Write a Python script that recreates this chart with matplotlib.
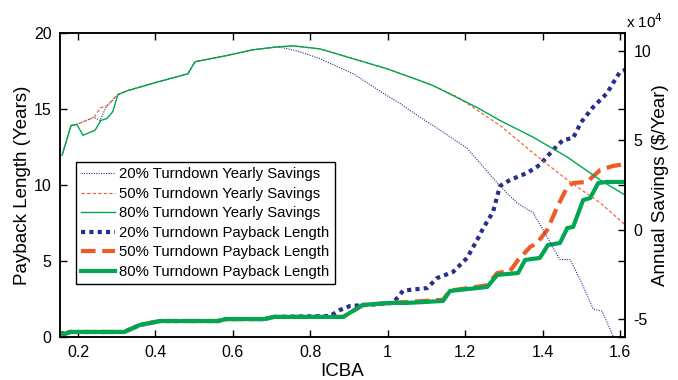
import numpy as np
import matplotlib
matplotlib.use("Agg")
import matplotlib.pyplot as plt

plt.rcParams['font.family'] = ['Liberation Sans', 'DejaVu Sans']

#--- yearly savings ($/year) vs ICBA
sav20_x = [0.159, 0.182, 0.197, 0.241, 0.257, 0.272, 0.303, 0.329, 0.399, 0.484, 0.502, 0.580,
           0.652, 0.714, 0.730, 0.766, 0.825, 0.911, 0.998, 1.032, 1.084, 1.117, 1.205, 1.290,
           1.334, 1.350, 1.376, 1.401, 1.445, 1.471, 1.497, 1.531, 1.554, 1.582, 1.600]
sav20_y = [41700, 58300, 58900, 62800, 61100, 68300, 75600, 77800, 82200, 87200, 93900, 97200,
           100600, 102200, 101700, 100000, 95600, 87200, 75000, 70600, 62800, 58300, 45600, 24400,
           15000, 12800, 9400, 0, -16700, -16700, -27800, -44400, -45600, -59400, -70000]

sav50_x = [0.159, 0.182, 0.197, 0.241, 0.259, 0.272, 0.303, 0.329, 0.399, 0.484, 0.502, 0.580,
           0.652, 0.714, 0.756, 0.825, 0.911, 0.998, 1.084, 1.117, 1.179, 1.290, 1.376, 1.464,
           1.549, 1.613]
sav50_y = [41700, 58300, 58900, 62800, 68300, 68900, 75600, 77800, 82200, 87200, 93900, 97200,
           100600, 102200, 102800, 101100, 95600, 90000, 83300, 80600, 74400, 58300, 42800, 27800,
           15000, 2800]

sav80_x = [0.159, 0.182, 0.197, 0.213, 0.244, 0.259, 0.275, 0.290, 0.303, 0.329, 0.399, 0.484,
           0.502, 0.580, 0.652, 0.714, 0.756, 0.825, 0.911, 0.998, 1.084, 1.117, 1.231, 1.290,
           1.376, 1.464, 1.549, 1.613]
sav80_y = [41700, 58300, 58900, 52800, 55600, 61100, 62200, 66100, 75600, 77800, 82200, 87200,
           93900, 97200, 100600, 102200, 102800, 101100, 95600, 90000, 83300, 80600, 68300, 61100,
           51700, 40600, 27800, 19400]

#--- payback length (years) vs ICBA
pb20_x = [0.1535, 0.166, 0.179, 0.2, 0.319, 0.360, 0.412, 0.562, 0.582, 0.681, 0.706, 0.851,
          0.877, 0.903, 0.947, 1.014, 1.040, 1.102, 1.128, 1.169, 1.205, 1.231, 1.247, 1.272,
          1.290, 1.316, 1.360, 1.393, 1.427, 1.453, 1.479, 1.500, 1.531, 1.567, 1.582, 1.600, 1.613]
pb20_y = [0.26, 0.2, 0.33, 0.33, 0.33, 0.79, 1.05, 1.05, 1.18, 1.18, 1.32, 1.38,
          1.78, 2.04, 2.11, 2.24, 3.05, 3.22, 3.88, 4.28, 5.2, 6.38, 7.17, 8.22,
          9.93, 10.33, 10.79, 11.32, 12.3, 12.96, 13.09, 14.14, 15.13, 16.05, 16.7, 17.43, 17.57]

pb50_x = [0.1535, 0.166, 0.179, 0.2, 0.319, 0.360, 0.412, 0.562, 0.582, 0.681, 0.706, 0.885,
          0.936, 1.006, 1.050, 1.143, 1.161, 1.257, 1.283, 1.316, 1.337, 1.368, 1.386, 1.412,
          1.438, 1.464, 1.479, 1.515, 1.549, 1.582, 1.613]
pb50_y = [0.26, 0.2, 0.33, 0.33, 0.33, 0.79, 1.05, 1.05, 1.18, 1.18, 1.32, 1.32,
          2.11, 2.24, 2.30, 2.45, 3.05, 3.40, 4.21, 4.34, 5.07, 5.92, 6.18, 7.04,
          8.55, 9.87, 10.13, 10.2, 10.99, 11.25, 11.38]

pb80_x = [0.1535, 0.166, 0.179, 0.2, 0.319, 0.360, 0.412, 0.562, 0.582, 0.681, 0.706, 0.885,
          0.936, 1.006, 1.050, 1.143, 1.161, 1.257, 1.283, 1.337, 1.355, 1.393, 1.414, 1.445,
          1.464, 1.479, 1.505, 1.523, 1.544, 1.567, 1.613]
pb80_y = [0.26, 0.2, 0.33, 0.33, 0.33, 0.79, 1.05, 1.05, 1.18, 1.18, 1.32, 1.32,
          2.11, 2.24, 2.24, 2.37, 3.03, 3.29, 4.08, 4.21, 5.07, 5.2, 6.05, 6.18,
          7.17, 7.24, 9.01, 9.14, 10.13, 10.2, 10.2]

blue = '#262f8f'
red = '#f05a24'
green = '#00a651'

fig = plt.figure(figsize=(6.78, 3.8), dpi=100)
ax = fig.add_axes([0.0885, 0.1132, 0.8333, 0.8])
ax2 = ax.twinx()

# payback on the left axis
l4, = ax.plot(pb20_x, pb20_y, color=blue, lw=3.0, ls=(0, (1, 1)), dash_capstyle='butt')
l5, = ax.plot(pb50_x, pb50_y, color=red, lw=3.0, ls=(0, (3.5, 1.6)))
l6, = ax.plot(pb80_x, pb80_y, color=green, lw=3.0)

# savings on the right axis, in units of 1e4 $
s = 1e4
l1, = ax2.plot(sav20_x, np.array(sav20_y) / s, color=blue, lw=0.8, ls=(0, (1, 1.2)))
l2, = ax2.plot(sav50_x, np.array(sav50_y) / s, color=red, lw=0.8, ls=(0, (3, 2)))
l3, = ax2.plot(sav80_x, np.array(sav80_y) / s, color=green, lw=1.0)

ax.set_xlim(0.1535, 1.613)
ax.set_ylim(0, 20)
ax2.set_ylim(-6, 11)
ax.set_xticks([0.2, 0.4, 0.6, 0.8, 1, 1.2, 1.4, 1.6])
ax.set_xticklabels(['0.2', '0.4', '0.6', '0.8', '1', '1.2', '1.4', '1.6'])
ax.set_yticks([0, 5, 10, 15, 20])
ax2.set_yticks([-5, 0, 5, 10])
ax2.set_yticklabels(['-5', '0', '5', '10'])

ax.tick_params(direction='in', length=5, width=1, top=True, right=True, labelsize=11.5, pad=6)
ax2.tick_params(direction='in', length=5, width=1, labelsize=11.5, pad=6)
for a in (ax, ax2):
    for sp in a.spines.values():
        sp.set_linewidth(1.1)

ax.set_xlabel('ICBA', fontsize=13.5, labelpad=2)
ax.set_ylabel('Payback Length (Years)', fontsize=13.5, labelpad=2)
ax2.set_ylabel('Annual Savings ($/Year)', fontsize=13.5, labelpad=1)
fig.text(626 / 678, 1 - 22 / 380, r'x 10$^4$', fontsize=11, ha='left', va='center')

labels = ['20% Turndown Yearly Savings', '50% Turndown Yearly Savings', '80% Turndown Yearly Savings',
          '20% Turndown Payback Length', '50% Turndown Payback Length', '80% Turndown Payback Length']
leg = ax2.legend([l1, l2, l3, l4, l5, l6], labels, loc='lower left',
                 bbox_to_anchor=(0.028, 0.174), fontsize=10.7, fancybox=False,
                 edgecolor='black', framealpha=1, borderaxespad=0, handlelength=2.3,
                 handletextpad=0.25, labelspacing=0.37, borderpad=0.36)
leg.get_frame().set_linewidth(1.0)

plt.savefig('out.png', dpi=100)
